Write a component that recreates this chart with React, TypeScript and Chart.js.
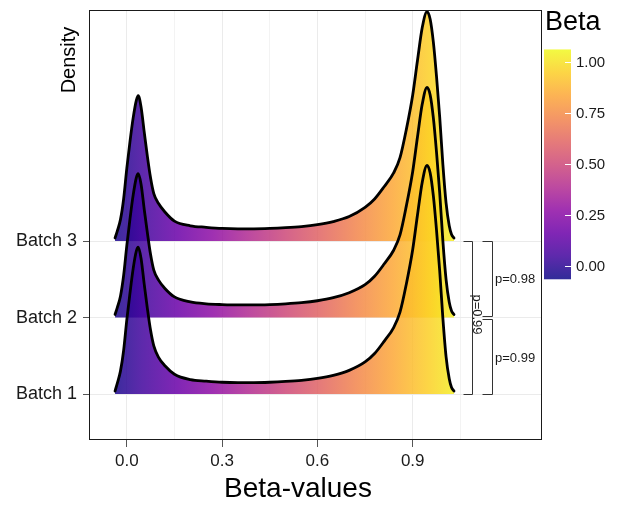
import React, { useEffect, useRef } from 'react';
import { Chart, registerables } from 'chart.js';

Chart.register(...registerables);

// ---------- data ----------
const batchLabels = ['Batch 1', 'Batch 2', 'Batch 3'];
const batchPositions = [1, 2, 3];

const betaGrid = [
  -0.037, -0.03, -0.02, -0.01, 0.0, 0.01, 0.02, 0.03, 0.036, 0.045, 0.055, 0.065, 0.075, 0.085,
  0.1, 0.12, 0.15, 0.2, 0.25, 0.3, 0.35, 0.4, 0.45, 0.5, 0.55, 0.6, 0.65, 0.7, 0.75, 0.78, 0.81,
  0.84, 0.86, 0.88, 0.9, 0.915, 0.93, 0.945, 0.955, 0.965, 0.975, 0.985, 0.995, 1.005, 1.015,
  1.022, 1.03,
];

const batch1Density = [
  0.04, 0.14, 0.3, 0.57, 0.97, 1.32, 1.64, 1.87, 1.92, 1.77, 1.43, 1.11, 0.83, 0.63,
  0.48, 0.37, 0.26, 0.19, 0.17, 0.155, 0.15, 0.15, 0.155, 0.165, 0.18, 0.205, 0.245, 0.31, 0.42, 0.53,
  0.69, 0.87, 1.07, 1.44, 1.89, 2.34, 2.77, 2.99, 2.89, 2.59, 2.14, 1.61, 0.99, 0.49, 0.2,
  0.09, 0.04,
];

const batch2Density = [
  0.04, 0.13, 0.28, 0.55, 0.94, 1.29, 1.6, 1.83, 1.88, 1.74, 1.41, 1.1, 0.82, 0.62,
  0.49, 0.38, 0.27, 0.205, 0.18, 0.17, 0.165, 0.165, 0.17, 0.18, 0.195, 0.22, 0.26, 0.325, 0.43, 0.54,
  0.7, 0.88, 1.08, 1.46, 1.91, 2.36, 2.79, 3.01, 2.91, 2.61, 2.16, 1.63, 1.0, 0.5, 0.2,
  0.09, 0.04,
];

const batch3Density = [
  0.04, 0.13, 0.28, 0.55, 0.95, 1.3, 1.61, 1.84, 1.9, 1.75, 1.42, 1.1, 0.82, 0.62,
  0.49, 0.38, 0.26, 0.2, 0.18, 0.165, 0.16, 0.16, 0.165, 0.175, 0.19, 0.215, 0.255, 0.32, 0.44, 0.55,
  0.71, 0.89, 1.09, 1.46, 1.91, 2.36, 2.79, 3.0, 2.9, 2.6, 2.15, 1.62, 1.0, 0.5, 0.2,
  0.09, 0.04,
];

const densities = [batch1Density, batch2Density, batch3Density];

const xMajorTicks = [0, 0.3, 0.6, 0.9];
const xMinorTicks = [0.15, 0.45, 0.75, 1.05];
const colorbarTicks = [0, 0.25, 0.5, 0.75, 1];
const betaRange = [-0.065, 1.06];

const plasma = [
  '#0d0887', '#41049d', '#6a00a8', '#8f0da4', '#b12a90', '#cc4778',
  '#e16462', '#f2844b', '#fca636', '#fcce25', '#f0f921',
];

// significance brackets
const bracketLow = [1, 2.026, 1];
const bracketHigh = [1.987, 3, 3];
const bracketLabels = ['p=0.99', 'p=0.98', 'p=0.99'];
const bracketInner = [1.117, 1.117, 1.057];
const bracketOuter = [1.15, 1.15, 1.086];

const FONT = '"Liberation Sans", Arial, Helvetica, sans-serif';

function plasmaGradient(ctx: CanvasRenderingContext2D, x0: number, y0: number, x1: number, y1: number, alpha: string) {
  const g = ctx.createLinearGradient(x0, y0, x1, y1);
  plasma.forEach((c, i) => g.addColorStop(i / (plasma.length - 1), c + alpha));
  return g;
}

const overlayPlugin = {
  id: 'overlay',
  afterDraw(chart: any) {
    const { ctx, chartArea: a, scales } = chart;
    const xs = scales.x;
    const ys = scales.y;
    ctx.save();

    // panel border
    ctx.strokeStyle = '#1a1a1a';
    ctx.lineWidth = 1;
    ctx.strokeRect(a.left + 0.5, a.top + 0.5, a.right - a.left - 1, a.bottom - a.top - 1);

    // brackets
    ctx.strokeStyle = '#333333';
    ctx.lineWidth = 1;
    for (let i = 0; i < bracketLabels.length; i++) {
      const xi = Math.round(xs.getPixelForValue(bracketInner[i])) + 0.5;
      const xo = Math.round(xs.getPixelForValue(bracketOuter[i])) + 0.5;
      const yl = Math.round(ys.getPixelForValue(bracketLow[i])) + 0.5;
      const yh = Math.round(ys.getPixelForValue(bracketHigh[i])) + 0.5;
      ctx.beginPath();
      ctx.moveTo(xi, yh);
      ctx.lineTo(xo, yh);
      ctx.lineTo(xo, yl);
      ctx.lineTo(xi, yl);
      ctx.stroke();
    }
    ctx.fillStyle = '#1a1a1a';
    ctx.font = `13px ${FONT}`;
    ctx.textBaseline = 'middle';
    ctx.textAlign = 'left';
    ctx.fillText(bracketLabels[1], xs.getPixelForValue(1.159), ys.getPixelForValue(2.5));
    ctx.fillText(bracketLabels[0], xs.getPixelForValue(1.159), ys.getPixelForValue(1.47));
    ctx.save();
    ctx.translate(xs.getPixelForValue(1.1), ys.getPixelForValue(2.04));
    ctx.rotate(Math.PI / 2);
    ctx.textAlign = 'center';
    ctx.fillText(bracketLabels[2], 0, 0);
    ctx.restore();

    // axis titles
    ctx.fillStyle = '#000';
    ctx.font = `28px ${FONT}`;
    ctx.textAlign = 'center';
    ctx.textBaseline = 'alphabetic';
    ctx.fillText('Beta-values', 298, 497);
    ctx.save();
    ctx.translate(75, 60);
    ctx.rotate(-Math.PI / 2);
    ctx.font = `20px ${FONT}`;
    ctx.fillText('Density', 0, 0);
    ctx.restore();

    // colour bar legend
    const barL = 544, barR = 571;
    const v2y = (v: number) => 266 - v * 204.3;
    const yTop = v2y(betaRange[1]);
    const yBot = v2y(betaRange[0]);
    ctx.fillStyle = plasmaGradient(ctx, 0, yBot, 0, yTop, 'd9');
    ctx.fillRect(barL, yTop, barR - barL, yBot - yTop);
    ctx.strokeStyle = '#ffffff';
    ctx.lineWidth = 1;
    ctx.font = `15px ${FONT}`;
    ctx.textAlign = 'left';
    ctx.textBaseline = 'middle';
    colorbarTicks.forEach((v) => {
      const yy = Math.round(v2y(v)) + 0.5;
      ctx.beginPath();
      ctx.moveTo(barR - 6, yy);
      ctx.lineTo(barR, yy);
      ctx.stroke();
      ctx.fillStyle = '#1a1a1a';
      ctx.fillText(v.toFixed(2), 576, yy);
    });
    ctx.fillStyle = '#000';
    ctx.font = `27px ${FONT}`;
    ctx.textBaseline = 'alphabetic';
    ctx.fillText('Beta', 545, 30);

    ctx.restore();
  },
};

export default function App() {
  const canvasRef = useRef<HTMLCanvasElement | null>(null);

  useEffect(() => {
    document.body.style.margin = '0';
    const canvas = canvasRef.current;
    if (!canvas) return;

    const datasets = batchLabels.map((label, bi) => ({
      label,
      data: betaGrid.map((b, i) => ({ x: b, y: batchPositions[bi] + densities[bi][i] })),
      fill: { value: batchPositions[bi] },
      borderColor: '#000000',
      borderWidth: 2.8,
      borderJoinStyle: 'round' as const,
      borderCapStyle: 'round' as const,
      pointRadius: 0,
      cubicInterpolationMode: 'monotone' as const,
      backgroundColor: (c: any) => {
        const chart = c.chart;
        if (!chart.chartArea) return 'rgba(0,0,0,0)';
        const x0 = chart.scales.x.getPixelForValue(betaRange[0]);
        const x1 = chart.scales.x.getPixelForValue(betaRange[1]);
        return plasmaGradient(chart.ctx, x0, 0, x1, 0, 'd9');
      },
    }));

    const chart = new Chart(canvas, {
      type: 'line',
      data: { datasets },
      options: {
        responsive: false,
        animation: false,
        devicePixelRatio: 1,
        layout: { padding: { left: 0, right: 84, top: 10, bottom: 0 } },
        plugins: { legend: { display: false }, tooltip: { enabled: false } },
        font: { family: FONT },
        scales: {
          x: {
            type: 'linear',
            min: -0.119,
            max: 1.307,
            afterBuildTicks: (s: any) => {
              s.ticks = [...xMajorTicks, ...xMinorTicks].sort((p, q) => p - q).map((v) => ({ value: v }));
            },
            afterFit: (s: any) => {
              s.height = 68;
              s.paddingLeft = 0;
              s.paddingRight = 0;
            },
            ticks: {
              autoSkip: false,
              maxRotation: 0,
              padding: 4,
              color: '#1a1a1a',
              font: { family: FONT, size: 17 },
              callback: (v: any) => (xMajorTicks.includes(v) ? Number(v).toFixed(1) : ''),
            },
            grid: {
              color: (c: any) => (c.tick && xMinorTicks.includes(c.tick.value) ? '#f3f3f3' : '#ebebeb'),
              tickColor: (c: any) => (c.tick && xMinorTicks.includes(c.tick.value) ? 'rgba(0,0,0,0)' : '#555555'),
              tickLength: 7,
              lineWidth: 1,
            },
            border: { display: false },
          },
          y: {
            type: 'linear',
            min: 0.4,
            max: 6.02,
            afterBuildTicks: (s: any) => {
              s.ticks = batchPositions.map((v) => ({ value: v }));
            },
            afterFit: (s: any) => {
              s.width = 89;
              s.paddingTop = 0;
              s.paddingBottom = 0;
            },
            ticks: {
              autoSkip: false,
              padding: 6,
              color: '#1a1a1a',
              font: { family: FONT, size: 18 },
              callback: (v: any) => batchLabels[batchPositions.indexOf(Number(v))] ?? '',
            },
            grid: {
              color: '#ebebeb',
              tickColor: '#555555',
              tickLength: 6,
              lineWidth: 1,
            },
            border: { display: false },
          },
        },
      },
      plugins: [overlayPlugin],
    });

    return () => chart.destroy();
  }, []);

  return (
    <div style={{ width: 626, height: 508 }}>
      <canvas ref={canvasRef} width={626} height={508} style={{ display: 'block' }} />
    </div>
  );
}
